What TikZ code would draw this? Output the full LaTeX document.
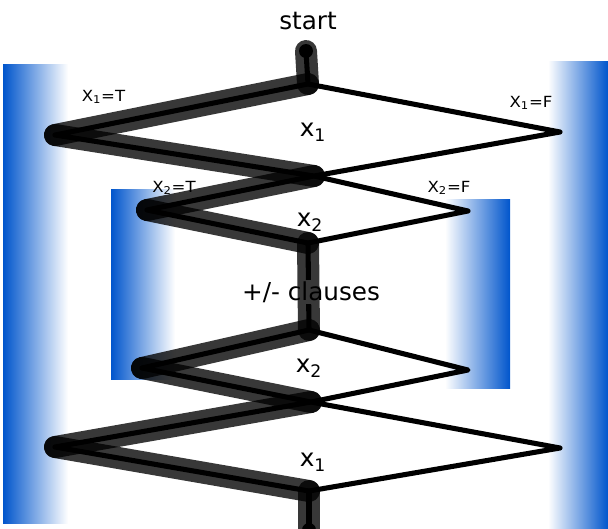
\documentclass[tikz,border=0pt]{standalone}
\usepackage{fontspec}
\setmainfont{DejaVu Sans}
\begin{document}
\begin{tikzpicture}[x=0.75pt,y=-0.75pt,
  blackline/.style={line width=3.8pt,line cap=round,line join=round,draw=black},
  hilite/.style={line width=16.5pt,line cap=round,draw=black,draw opacity=0.78},
  biglabel/.style={font=\fontsize{18.5pt}{21pt}\selectfont,inner sep=1pt},
  smalllabel/.style={font=\fontsize{11.5pt}{13pt}\selectfont,inner sep=0pt}]
\definecolor{barblue}{RGB}{0,85,204}
\useasboundingbox (0,0) rectangle (608,529);
% blue bars
\shade[left color=barblue,right color=white] (3,64) rectangle (68,523);
\shade[left color=barblue,right color=white] (111,189) rectangle (175,379);
\shade[left color=white,right color=barblue] (445,199) rectangle (510,388);
\shade[left color=white,right color=barblue] (548,61) rectangle (608,529);
% vertices
\coordinate (S0) at (306,51);
\coordinate (A) at (308,84);
\coordinate (L1) at (55,135);
\coordinate (R1) at (560,132);
\coordinate (B) at (314,176);
\coordinate (L2) at (147,210);
\coordinate (R2) at (468,211);
\coordinate (C) at (308,243);
\coordinate (D) at (309,330);
\coordinate (L3) at (142,368);
\coordinate (R3) at (468,370);
\coordinate (E) at (311,402);
\coordinate (L4) at (55,447);
\coordinate (R4) at (560,448);
\coordinate (F) at (309,491);
\coordinate (S1) at (309,530);
% black lines
\draw[blackline] (S0) -- (A);
\draw[blackline] (A) -- (L1) -- (B) -- (R1) -- cycle;
\draw[blackline] (B) -- (L2) -- (C) -- (R2) -- cycle;
\draw[blackline] (C) -- (D);
\draw[blackline] (D) -- (L3) -- (E) -- (R3) -- cycle;
\draw[blackline] (E) -- (L4) -- (F) -- (R4) -- cycle;
\draw[blackline] (F) -- (S1);
\fill[black] (S0) circle (7);
\fill[black] (S1) circle (7);
% labels
\node[biglabel] (tstart) at (308,21) {start};
\node[biglabel,fill=white] (tclauses) at (311,292) {+/- clauses};
\node[biglabel] (tx1a) at (313,132) {x\textsubscript{1}};
\node[biglabel] (tx2a) at (310,222) {x\textsubscript{2}};
\node[biglabel] (tx2b) at (309,368) {x\textsubscript{2}};
\node[biglabel] (tx1b) at (313,462) {x\textsubscript{1}};
\node[smalllabel] (l1t) at (103.5,97) {\scalebox{1.08}[1]{X\textsubscript{1}=T}};
\node[smalllabel] (l1f) at (531,103) {\scalebox{1.08}[1]{X\textsubscript{1}=F}};
\node[smalllabel] (l2t) at (174,188) {\scalebox{1.08}[1]{X\textsubscript{2}=T}};
\node[smalllabel] (l2f) at (449,188) {\scalebox{1.08}[1]{X\textsubscript{2}=F}};
% highlighted path
\draw[hilite] (S0) -- (A);
\draw[hilite] (A) -- (L1);
\draw[hilite] (L1) -- (B);
\draw[hilite] (B) -- (L2);
\draw[hilite] (L2) -- (C);
\draw[hilite] (C) -- (D);
\draw[hilite] (D) -- (L3);
\draw[hilite] (L3) -- (E);
\draw[hilite] (E) -- (L4);
\draw[hilite] (L4) -- (F);
\draw[hilite] (F) -- (S1);
\end{tikzpicture}
\end{document}
